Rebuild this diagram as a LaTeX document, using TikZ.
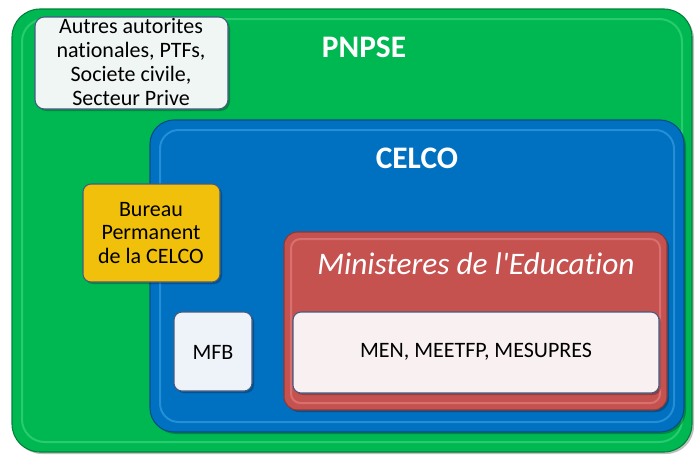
\documentclass[tikz,border=0pt]{standalone}
\usepackage{fontspec}
\setmainfont{Carlito}[Ligatures={NoCommon}]
\definecolor{pnpsegreen}{RGB}{0,184,82}
\definecolor{pnpselight}{RGB}{90,230,140}
\definecolor{celcoblue}{RGB}{0,112,192}
\definecolor{celcolight}{RGB}{80,180,245}
\definecolor{minred}{RGB}{198,82,80}
\definecolor{minlight}{RGB}{240,150,150}
\definecolor{bureaugold}{RGB}{240,192,10}
\definecolor{edgegrey}{RGB}{70,90,130}
\tikzset{
  panel/.style={line width=0.8pt},
  bevel/.style={line width=1.5pt, draw opacity=0.45},
  shade/.style={fill=black, fill opacity=0.25, draw=none},
  boxtxt/.style={anchor=center, inner sep=0.75pt, align=center, font=\fontsize{16.5}{17.9}\selectfont},
  titletxt/.style={anchor=center, inner sep=0.75pt, text=white, font=\fontsize{23.5}{28}\selectfont\bfseries}
}
\begin{document}
\begin{tikzpicture}[x=0.75pt,y=0.75pt,yscale=-1,xscale=1]
\useasboundingbox (0,0) rectangle (696,455);

%PNPSE
\draw [shade, rounded corners=21pt] (14,11) rectangle (694,454);
\draw [panel, draw=pnpsegreen!70!black, fill=pnpsegreen, rounded corners=21pt] (12,9) rectangle (692,452);
\draw [bevel, draw=pnpselight, rounded corners=17pt] (22,19) rectangle (682,442);

%Autres
\draw [shade, rounded corners=7pt] (37,19) rectangle (230,111);
\draw [panel, draw=edgegrey, fill={rgb,255:red,240;green,246;blue,243}, rounded corners=7pt] (35,17) rectangle (228,109);

%CELCO
\draw [shade, rounded corners=18pt] (152,122) rectangle (686,434);
\draw [panel, draw=celcoblue!70!black, fill=celcoblue, rounded corners=18pt] (150,120) rectangle (684,432);
\draw [bevel, draw=celcolight, rounded corners=14pt] (160,130) rectangle (674,422);

%Bureau
\draw [shade, rounded corners=6pt] (85,186) rectangle (222,284);
\draw [panel, draw=edgegrey, fill=bureaugold, rounded corners=6pt] (83,184) rectangle (220,282);

%Ministeres
\draw [shade, rounded corners=10pt] (286,234) rectangle (669,412);
\draw [panel, draw=minred!70!black, fill=minred, rounded corners=10pt] (284,232) rectangle (667,410);
\draw [bevel, draw=minlight, rounded corners=7pt] (291,239) rectangle (660,403);

%MEN
\draw [shade, rounded corners=6pt] (295,314) rectangle (661,395);
\draw [panel, draw=edgegrey, fill={rgb,255:red,249;green,241;blue,241}, rounded corners=6pt] (293,312) rectangle (659,393);

%MFB
\draw [shade, rounded corners=6pt] (176,314) rectangle (254,393);
\draw [panel, draw=edgegrey, fill={rgb,255:red,238;green,242;blue,249}, rounded corners=6pt] (174,312) rectangle (252,391);

% Text Node
\node [titletxt] (pnpse) at (364,47) {PNPSE};
% Text Node
\node [titletxt] (celco) at (417,158) {CELCO};
% Text Node
\node [titletxt, font=\fontsize{23.5}{28}\selectfont\itshape] (ministeres) at (476,264) {Ministeres de l\textquotesingle Education};
% Text Node
\node [boxtxt] (autres) at (131,62) {Autres autorites\\nationales, PTFs,\\Societe civile,\\Secteur Prive};
% Text Node
\node [boxtxt] (bureau) at (151,233) {Bureau\\Permanent\\de la CELCO};
% Text Node
\node [boxtxt] (mfb) at (213,352) {MFB};
% Text Node
\node [boxtxt] (men) at (476,352) {MEN, MEETFP, MESUPRES};

\end{tikzpicture}
\end{document}
